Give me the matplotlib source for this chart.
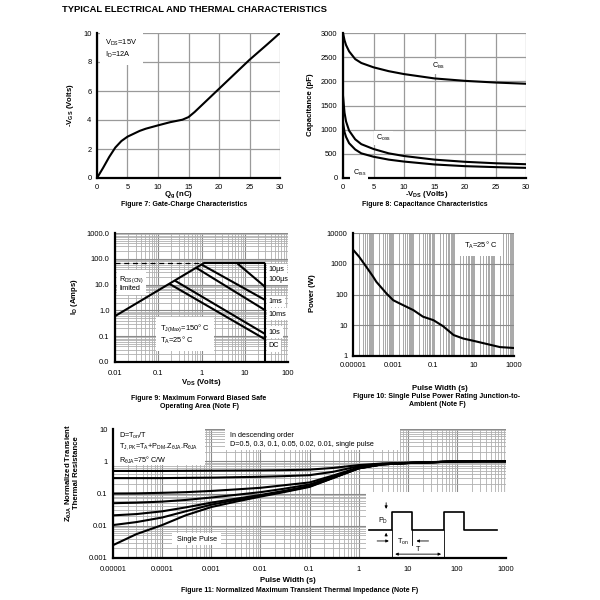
import numpy as np
import matplotlib
matplotlib.use("Agg")
import matplotlib.pyplot as plt
from matplotlib.patches import Rectangle
from matplotlib.ticker import LogLocator, NullFormatter, FuncFormatter

plt.rcParams['font.family'] = ['Liberation Sans', 'DejaVu Sans']
plt.rcParams['mathtext.fontset'] = 'custom'
plt.rcParams['mathtext.rm'] = 'Liberation Sans'
plt.rcParams['mathtext.it'] = 'Liberation Sans:italic'
plt.rcParams['mathtext.bf'] = 'Liberation Sans:bold'
plt.rcParams['mathtext.default'] = 'regular'

# ---- Figure 7: gate charge ----
qg = [0, 1, 2, 3, 4, 5, 6, 7, 8, 10, 12, 14, 15, 16, 18, 20, 22, 25, 28, 30]
vgs = [0, 0.7, 1.45, 2.1, 2.55, 2.85, 3.05, 3.25, 3.4, 3.63, 3.85, 4.02, 4.2, 4.55, 5.35, 6.15, 6.95, 8.15, 9.25, 10]

# ---- Figure 8: capacitance ----
vds_c = [0, 0.25, 0.5, 1, 2, 3, 5, 7.5, 10, 15, 20, 25, 30]
ciss = [3000, 2850, 2750, 2620, 2460, 2380, 2290, 2210, 2150, 2060, 2010, 1975, 1950]
coss = [1700, 1350, 1170, 980, 800, 700, 600, 510, 455, 380, 335, 305, 285]
crss = [1150, 950, 850, 720, 590, 510, 440, 380, 340, 280, 245, 225, 210]

# ---- Figure 9: safe operating area ----
rds_v, rds_i = [0.01, 1.17], [0.6, 70]
dash_v, dash_i = [0.01, 1.17], [70, 70]
soa_10us_v, soa_10us_i = [1.17, 30], [70, 70]
soa_100us_v, soa_100us_i = [6.5, 30], [70, 8]
soa_1ms_v, soa_1ms_i = [1.0, 30], [60, 2.5]
soa_10ms_v, soa_10ms_i = [0.75, 30], [45, 1.0]
soa_10s_v, soa_10s_i = [0.24, 30], [14.4, 0.12]
soa_dc_v, soa_dc_i = [0.18, 30], [10.8, 0.075]
vmax_v, vmax_i = [30, 30], [0.01, 70]
soa_labels = ['10µs', '100µs', '1ms', '10ms', '10s', 'DC']
soa_label_i = [38, 15.5, 2.2, 0.72, 0.145, 0.042]

# ---- Figure 10: single pulse power ----
pw_t = [1e-5, 2e-5, 4.6e-5, 1e-4, 1.45e-4, 4.6e-4, 1e-3, 2.1e-3, 1e-2, 3e-2, 0.1, 0.3, 1, 3, 10, 40, 200, 1000]
pw_p = [2880, 1700, 790, 380, 258, 108, 65, 51, 31, 19, 14.6, 9.3, 4.8, 3.7, 3.1, 2.5, 1.95, 1.82]

# ---- Figure 11: transient thermal impedance ----
zt = [1e-5, 3e-5, 1e-4, 3e-4, 1e-3, 3e-3, 1e-2, 3e-2, 0.1, 0.3, 1, 3, 10, 30, 100, 300, 1000]
z_single = [0.0025, 0.0055, 0.0105, 0.021, 0.038, 0.055, 0.08, 0.11, 0.16, 0.3, 0.6, 0.8, 0.88, 0.93, 0.99, 1.0, 1.0]
z_d001 = [0.0105, 0.013, 0.018, 0.028, 0.045, 0.062, 0.085, 0.115, 0.165, 0.305, 0.6, 0.8, 0.88, 0.93, 0.99, 1.0, 1.0]
z_d002 = [0.021, 0.023, 0.028, 0.037, 0.052, 0.068, 0.09, 0.12, 0.17, 0.31, 0.61, 0.8, 0.88, 0.93, 0.99, 1.0, 1.0]
z_d005 = [0.05, 0.052, 0.056, 0.063, 0.075, 0.09, 0.11, 0.14, 0.19, 0.33, 0.62, 0.8, 0.88, 0.93, 0.99, 1.0, 1.0]
z_d01 = [0.1, 0.101, 0.105, 0.11, 0.12, 0.133, 0.15, 0.18, 0.22, 0.36, 0.64, 0.81, 0.88, 0.93, 0.99, 1.0, 1.0]
z_d03 = [0.3, 0.3, 0.3, 0.305, 0.31, 0.32, 0.33, 0.345, 0.37, 0.47, 0.7, 0.83, 0.89, 0.93, 0.99, 1.0, 1.0]
z_d05 = [0.5, 0.5, 0.5, 0.505, 0.51, 0.515, 0.52, 0.53, 0.55, 0.62, 0.76, 0.85, 0.9, 0.94, 0.99, 1.0, 1.0]

# pulse sketch inside fig 11 (axes fraction)
pulse_x = [0.651, 0.711, 0.711, 0.762, 0.762, 0.842, 0.842, 0.893, 0.893, 0.976]
pulse_y = [0.217, 0.217, 0.359, 0.359, 0.217, 0.217, 0.359, 0.359, 0.217, 0.217]

W, H = 600, 600
fig = plt.figure(figsize=(6, 6), dpi=100)
TICK = 5.4
LAB = 5.6
CAP = 5.0
GRID = '#9a9a9a'


def px_axes(x0, y0, x1, y1):
    return fig.add_axes([x0 / W, 1 - y1 / H, (x1 - x0) / W, (y1 - y0) / H])


def ftext(x, y, s, **kw):
    fig.text(x / W, 1 - y / H, s, **kw)


def style(ax):
    for s in ['top', 'right']:
        ax.spines[s].set_visible(False)
    for s in ['left', 'bottom']:
        ax.spines[s].set_linewidth(1.6)
    ax.tick_params(which='both', length=0, labelsize=TICK, pad=4)
    ax.set_axisbelow(True)


def decfmt(v, pos=None):
    if v >= 1:
        return f'{v:.0f}'
    n = int(round(-np.log10(v)))
    return f'{v:.{n}f}'


white = dict(facecolor='white', edgecolor='none', pad=1.5)

ftext(62, 10, 'TYPICAL ELECTRICAL AND THERMAL CHARACTERISTICS', fontsize=6.75,
      fontweight='bold', va='center', ha='left')

# Figure 7
ax7 = px_axes(97, 33, 280, 178)
style(ax7)
ax7.plot(qg, vgs, color='black', lw=1.5)
ax7.set_xlim(0, 30)
ax7.set_ylim(0, 10)
ax7.set_xticks(np.arange(0, 31, 5))
ax7.set_yticks(np.arange(0, 11, 2))
ax7.grid(True, color=GRID, lw=0.9)
ax7.text(0.045, 0.97, 'V$_{DS}$=15V\nI$_D$=12A', transform=ax7.transAxes, fontsize=5.4,
         va='top', ha='left', linespacing=1.3, bbox=dict(facecolor='white', edgecolor='none', pad=4))
ftext(70, 105, '-V$_{GS}$ (Volts)', rotation=90, fontsize=LAB, fontweight='bold', ha='center', va='center')
ftext(178, 195, 'Q$_g$ (nC)', fontsize=LAB, fontweight='bold', ha='center', va='center')
ftext(184, 204, 'Figure 7: Gate-Charge Characteristics', fontsize=CAP, fontweight='bold', ha='center', va='center')

# Figure 8
ax8 = px_axes(343, 33, 526, 178)
style(ax8)
for c in (ciss, coss, crss):
    ax8.plot(vds_c, c, color='black', lw=1.5)
ax8.set_xlim(0, 30)
ax8.set_ylim(0, 3000)
ax8.set_xticks(np.arange(0, 31, 5))
ax8.set_yticks(np.arange(0, 3001, 500))
ax8.grid(True, color=GRID, lw=0.9)
ax8.text(15.6, 2310, 'C$_{iss}$', fontsize=5.2, ha='center', va='center', bbox=white)
ax8.text(6.6, 830, 'C$_{oss}$', fontsize=5.2, ha='center', va='center', bbox=white)
ax8.text(2.7, 115, 'C$_{rss}$', fontsize=5.2, ha='center', va='center', bbox=white)
ftext(310, 105, 'Capacitance (pF)', rotation=90, fontsize=LAB, fontweight='bold', ha='center', va='center')
ftext(427, 195, '-V$_{DS}$ (Volts)', fontsize=LAB, fontweight='bold', ha='center', va='center')
ftext(425, 204, 'Figure 8: Capacitance Characteristics', fontsize=CAP, fontweight='bold', ha='center', va='center')

# Figure 9
ax9 = px_axes(115, 233, 288, 362)
style(ax9)
ax9.set_xscale('log')
ax9.set_yscale('log')
ax9.set_xlim(0.01, 100)
ax9.set_ylim(0.01, 1000)
ax9.xaxis.set_major_locator(LogLocator(base=10, numticks=10))
ax9.yaxis.set_major_locator(LogLocator(base=10, numticks=10))
for a in (ax9.xaxis, ax9.yaxis):
    a.set_minor_locator(LogLocator(base=10, subs=np.arange(2, 10), numticks=20))
    a.set_minor_formatter(NullFormatter())
ax9.xaxis.set_major_formatter(FuncFormatter(lambda v, p: decfmt(v)))
ax9.yaxis.set_major_formatter(FuncFormatter(lambda v, p: f'{v:.1f}'))
ax9.grid(True, which='major', color='#8a8a8a', lw=0.8)
ax9.grid(True, which='minor', color='#b0b0b0', lw=0.6)
ax9.tick_params(axis='x', pad=6)
for vv, ii in [(rds_v, rds_i), (soa_10us_v, soa_10us_i), (soa_100us_v, soa_100us_i),
               (soa_1ms_v, soa_1ms_i), (soa_10ms_v, soa_10ms_i), (soa_10s_v, soa_10s_i),
               (soa_dc_v, soa_dc_i), (vmax_v, vmax_i)]:
    ax9.plot(vv, ii, color='black', lw=1.5, solid_capstyle='butt')
ax9.plot(dash_v, dash_i, color='black', lw=0.9, ls=(0, (4, 3)))
for lab, yy in zip(soa_labels, soa_label_i):
    ax9.text(36, yy, lab, fontsize=5.2, ha='left', va='center', bbox=white)
ax9.text(0.0125, 11, 'R$_{DS(ON)}$\nlimited', fontsize=5.2, ha='left', va='center',
         linespacing=1.0, bbox=white)
ax9.text(0.11, 0.12, 'T$_{J(Max)}$=150° C\nT$_A$=25° C', fontsize=5.4, ha='left', va='center',
         linespacing=1.2, bbox=dict(facecolor='white', edgecolor='none', pad=3))
ftext(75, 297, 'I$_D$ (Amps)', rotation=90, fontsize=LAB, fontweight='bold', ha='center', va='center')
ftext(201, 383, 'V$_{DS}$ (Volts)', fontsize=LAB, fontweight='bold', ha='center', va='center')
ftext(199, 399, 'Figure 9: Maximum Forward Biased Safe', fontsize=CAP, fontweight='bold', ha='center', va='center')
ftext(199, 407, 'Operating Area (Note F)', fontsize=CAP, fontweight='bold', ha='center', va='center')

# Figure 10
ax10 = px_axes(353, 233, 514, 356)
style(ax10)
ax10.set_xscale('log')
ax10.set_yscale('log')
ax10.set_xlim(1e-5, 1000)
ax10.set_ylim(1, 10000)
ax10.set_xticks([1e-5, 1e-3, 1e-1, 10, 1000])
ax10.xaxis.set_minor_locator(LogLocator(base=10, subs=np.arange(1, 10), numticks=30))
ax10.xaxis.set_minor_formatter(NullFormatter())
ax10.yaxis.set_major_locator(LogLocator(base=10, numticks=10))
ax10.yaxis.set_minor_formatter(NullFormatter())
ax10.xaxis.set_major_formatter(FuncFormatter(lambda v, p: decfmt(v)))
ax10.yaxis.set_major_formatter(FuncFormatter(lambda v, p: decfmt(v)))
ax10.grid(True, axis='x', which='both', color='#a8a8a8', lw=0.7)
ax10.grid(True, axis='y', which='major', color='#8a8a8a', lw=0.8)
ax10.plot(pw_t, pw_p, color='black', lw=1.5)
ax10.text(0.69, 0.9, 'T$_A$=25° C', transform=ax10.transAxes, fontsize=5.4, ha='left', va='center',
          bbox=dict(facecolor='white', edgecolor='none', pad=4))
ftext(313, 293, 'Power (W)', rotation=90, fontsize=LAB, fontweight='bold', ha='center', va='center')
ftext(440, 389, 'Pulse Width (s)', fontsize=LAB, fontweight='bold', ha='center', va='center')
ftext(437, 397, 'Figure 10: Single Pulse Power Rating Junction-to-', fontsize=CAP, fontweight='bold',
      ha='center', va='center')
ftext(437, 405, 'Ambient (Note F)', fontsize=CAP, fontweight='bold', ha='center', va='center')

# Figure 11
ax11 = px_axes(113, 429, 506, 558)
style(ax11)
ax11.set_xscale('log')
ax11.set_yscale('log')
ax11.set_xlim(1e-5, 1000)
ax11.set_ylim(0.001, 10)
ax11.xaxis.set_major_locator(LogLocator(base=10, numticks=12))
ax11.yaxis.set_major_locator(LogLocator(base=10, numticks=10))
for a in (ax11.xaxis, ax11.yaxis):
    a.set_minor_locator(LogLocator(base=10, subs=np.arange(2, 10), numticks=30))
    a.set_minor_formatter(NullFormatter())
    a.set_major_formatter(FuncFormatter(lambda v, p: decfmt(v)))
ax11.grid(True, which='major', color='#8a8a8a', lw=0.8)
ax11.grid(True, which='minor', color='#b0b0b0', lw=0.6)
ax11.tick_params(axis='x', pad=6)
for z in (z_d05, z_d03, z_d01, z_d005, z_d002, z_d001, z_single):
    ax11.plot(zt, z, color='black', lw=1.5, zorder=2)

for (x0, y0, w, h) in [(0.003, 0.72, 0.232, 0.28), (0.285, 0.837, 0.445, 0.163),
                       (0.645, 0.0, 0.355, 0.514), (0.150, 0.10, 0.125, 0.09)]:
    ax11.add_patch(Rectangle((x0, y0), w, h, transform=ax11.transAxes, facecolor='white',
                             edgecolor='none', zorder=1))
tkw = dict(transform=ax11.transAxes, fontsize=5.2, ha='left', va='center', zorder=3)
ax11.text(0.016, 0.948, 'D=T$_{on}$/T', **tkw)
ax11.text(0.016, 0.863, 'T$_{J,PK}$=T$_A$+P$_{DM}$.Z$_{θJA}$.R$_{θJA}$', **tkw)
ax11.text(0.016, 0.754, 'R$_{θJA}$=75° C/W', **tkw)
ax11.text(0.298, 0.948, 'In descending order', **tkw)
ax11.text(0.298, 0.88, 'D=0.5, 0.3, 0.1, 0.05, 0.02, 0.01, single pulse', **tkw)
ax11.text(0.213, 0.145, 'Single Pulse', transform=ax11.transAxes, fontsize=5.2, ha='center',
          va='center', zorder=3)

ax11.plot(pulse_x, pulse_y, color='black', lw=1.2, transform=ax11.transAxes, zorder=3)
for xx, ytop in [(0.711, 0.217), (0.842, 0.217), (0.762, 0.217)]:
    ybot = 0.0 if xx != 0.762 else 0.10
    ax11.plot([xx, xx], [ybot, ytop], color='black', lw=0.6, transform=ax11.transAxes, zorder=3)
akw = dict(xycoords='axes fraction', textcoords='axes fraction', annotation_clip=False)
ax11.annotate('', xy=(0.695, 0.359), xytext=(0.695, 0.45),
              arrowprops=dict(arrowstyle='-|>', color='black', lw=0.6, mutation_scale=4), **akw)
ax11.annotate('', xy=(0.695, 0.217), xytext=(0.695, 0.15),
              arrowprops=dict(arrowstyle='-|>', color='black', lw=0.6, mutation_scale=4), **akw)
ax11.annotate('', xy=(0.709, 0.132), xytext=(0.665, 0.132),
              arrowprops=dict(arrowstyle='-|>', color='black', lw=0.6, mutation_scale=4), **akw)
ax11.annotate('', xy=(0.765, 0.132), xytext=(0.81, 0.132),
              arrowprops=dict(arrowstyle='-|>', color='black', lw=0.6, mutation_scale=4), **akw)
ax11.annotate('', xy=(0.842, 0.03), xytext=(0.711, 0.03),
              arrowprops=dict(arrowstyle='<|-|>', color='black', lw=0.6, mutation_scale=4), **akw)
ax11.text(0.688, 0.29, 'P$_D$', transform=ax11.transAxes, fontsize=5.2, ha='center', va='center', zorder=3)
ax11.text(0.737, 0.122, 'T$_{on}$', transform=ax11.transAxes, fontsize=5.2, ha='center', va='center', zorder=3)
ax11.text(0.776, 0.065, 'T', transform=ax11.transAxes, fontsize=5.2, ha='center', va='center', zorder=3)

ftext(72, 473, 'Z$_{θJA}$ Normalized Transient\nThermal Resistance', rotation=90, fontsize=LAB,
      fontweight='bold', ha='center', va='center', linespacing=0.95)
ftext(288, 581, 'Pulse Width (s)', fontsize=LAB, fontweight='bold', ha='center', va='center')
ftext(300, 591, 'Figure 11: Normalized Maximum Transient Thermal Impedance (Note F)', fontsize=CAP,
      fontweight='bold', ha='center', va='center')

fig.savefig('out.png', dpi=100)
